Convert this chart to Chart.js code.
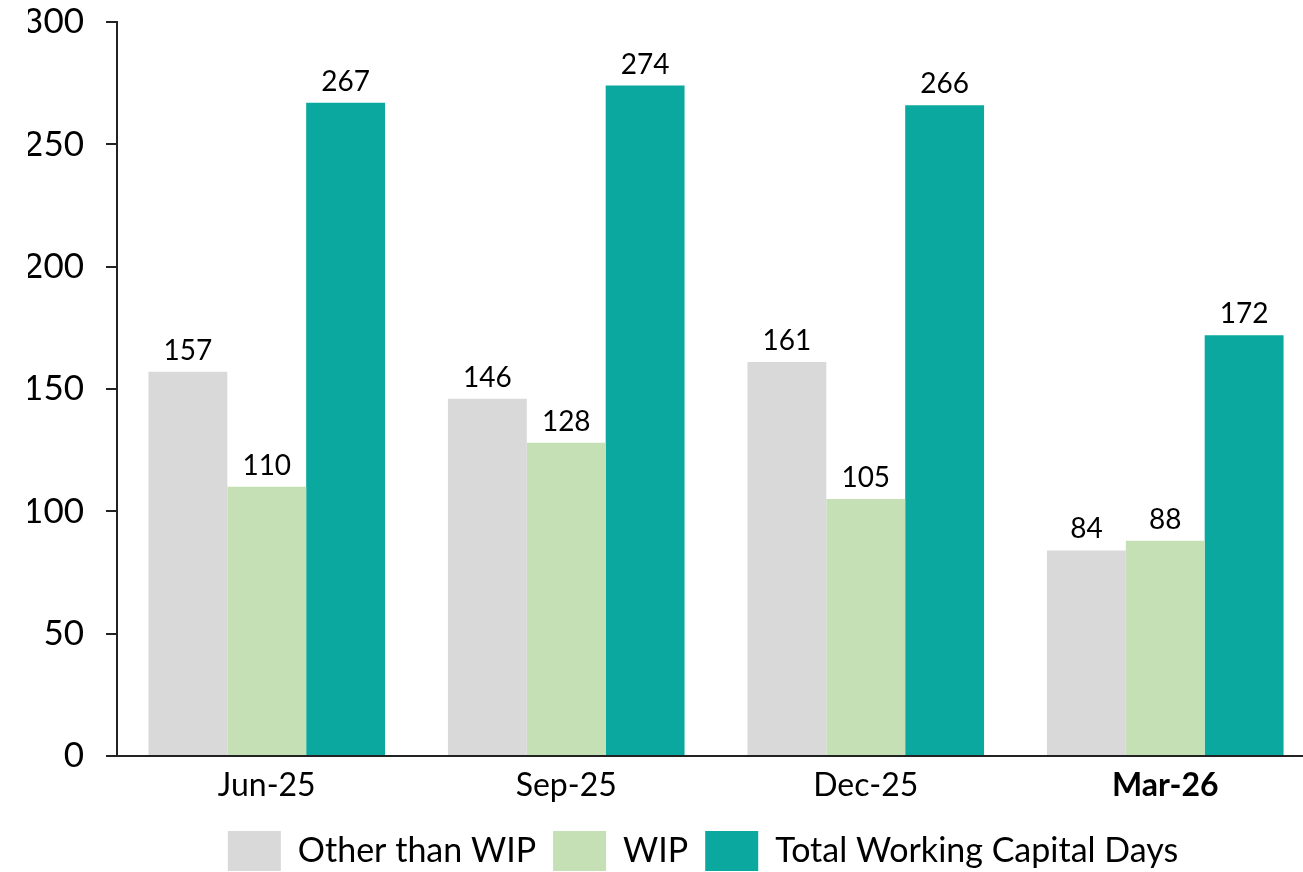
<!DOCTYPE html>
<html>
<head>
<meta charset="utf-8">
<script src="https://cdn.jsdelivr.net/npm/chart.js@4.4.1/dist/chart.umd.min.js"></script>
<style>
    html, body { margin: 0; padding: 0; background: #fff; overflow: hidden; }
    #wrap { position: relative; width: 1406px; height: 881px; }
</style>
</head>
<body>
<div id="wrap"><canvas id="chart"></canvas></div>
<script>
// ============================================
// DATA
// ============================================

const categories = ['Jun-25', 'Sep-25', 'Dec-25', 'Mar-26'];
const otherThanWip = [157, 146, 161, 84];
const wip = [110, 128, 105, 88];
const totalWcDays = [267, 274, 266, 172];
const yTicks = [0, 50, 100, 150, 200, 250, 300];

const FONT = 'Lato, "Open Sans", sans-serif';

// labels drawn above each bar
const barValueLabels = {
    id: 'barValueLabels',
    afterDatasetsDraw(chart) {
        const ctx = chart.ctx;
        ctx.save();
        ctx.font = `28px ${FONT}`;
        ctx.fillStyle = '#000';
        ctx.textAlign = 'center';
        ctx.textBaseline = 'alphabetic';
        chart.data.datasets.forEach((ds, i) => {
            const meta = chart.getDatasetMeta(i);
            meta.data.forEach((bar, j) => {
                ctx.fillText(String(ds.data[j]), bar.x, bar.y - 12);
            });
        });
        ctx.restore();
    }
};

// centre the legend on the whole figure rather than the padded box
const legendShift = {
    id: 'legendShift',
    afterLayout(chart) {
        if (chart.legend) {
            chart.legend.left = 91;
        }
    }
};

const ctx = document.getElementById('chart').getContext('2d');

new Chart(ctx, {
    type: 'bar',

    data: {
        labels: categories,

        datasets: [
            {
                label: 'Other than WIP',
                data: otherThanWip,
                backgroundColor: '#D9D9D9'
            },
            {
                label: 'WIP',
                data: wip,
                backgroundColor: '#C5E0B4'
            },
            {
                label: 'Total Working Capital Days',
                data: totalWcDays,
                backgroundColor: '#0AA89E'
            }
        ]
    },

    options: {
        responsive: true,
        maintainAspectRatio: false,
        animation: false,
        devicePixelRatio: 1,

        layout: {
            padding: { left: 28, top: 22, right: 91, bottom: 0 }
        },

        datasets: {
            bar: {
                categoryPercentage: 0.79,
                barPercentage: 1
            }
        },

        plugins: {
            legend: {
                position: 'bottom',
                labels: {
                    boxWidth: 53,
                    boxHeight: 40,
                    padding: 17,
                    color: '#000',
                    font: { family: FONT, size: 34 }
                }
            },
            tooltip: { enabled: false }
        },

        scales: {
            x: {
                grid: { display: false },
                border: { display: true, color: '#222', width: 2 },
                ticks: {
                    color: '#000',
                    padding: 2,
                    font(c) {
                        const isLast = c.index === categories.length - 1;
                        return { family: FONT, size: 32, weight: isLast ? 'bold' : 'normal' };
                    }
                },
                afterFit(scale) {
                    scale.height = 58;
                }
            },

            y: {
                min: 0,
                max: 300,
                afterBuildTicks(scale) {
                    scale.ticks = yTicks.map(v => ({ value: v }));
                },
                grid: {
                    drawOnChartArea: false,
                    drawTicks: true,
                    tickLength: 11,
                    color: '#222',
                    lineWidth: 2
                },
                border: { display: true, color: '#222', width: 2 },
                ticks: {
                    color: '#000',
                    padding: 22,
                    font: { family: FONT, size: 35 }
                },
                afterFit(scale) {
                    scale.width = 89;
                    scale.paddingTop = 0;
                    scale.paddingBottom = 0;
                }
            }
        }
    },

    plugins: [barValueLabels, legendShift]
});
</script>
</body>
</html>
